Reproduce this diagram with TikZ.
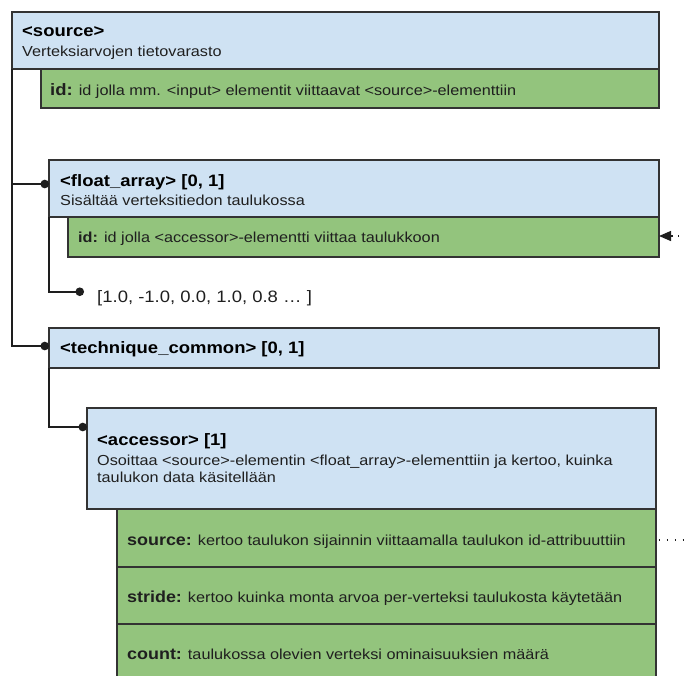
\documentclass[tikz,border=0pt]{standalone}
\usepackage{fontspec}
\setmainfont{Liberation Sans}[FakeStretch=1.12]
\usetikzlibrary{arrows.meta}
\definecolor{boxblue}{HTML}{CFE2F3}
\definecolor{boxgreen}{HTML}{93C47D}
\definecolor{boxedge}{HTML}{333333}
\definecolor{linecol}{HTML}{1E1E1E}
\begin{document}
\begin{tikzpicture}[x=1pt,y=-1pt,
  boxbase/.style={draw=boxedge, line width=1.8pt, anchor=north west, inner sep=0pt, outer sep=0pt},
  bluebox/.style={boxbase, fill=boxblue},
  greenbox/.style={boxbase, fill=boxgreen},
  ttl/.style={anchor=base west, inner sep=0pt, font=\bfseries\fontsize{16.5}{19}\selectfont},
  txt/.style={anchor=base west, inner sep=0pt, font=\fontsize{14.5}{17}\selectfont, text=black!88},
  conn/.style={draw=linecol, line width=1.8pt, -{Circle[length=8.5pt]}},
  refline/.style={draw=linecol, line width=1.4pt, dash pattern=on 1.4pt off 6.5pt}]
\clip (0,0) rectangle (685,675);

% element boxes
\node[bluebox, minimum width=647pt, minimum height=57pt] (src) at (12,12) {};
\node[bluebox, minimum width=610pt, minimum height=57pt] (fa) at (49,160) {};
\node[bluebox, minimum width=610pt, minimum height=40pt] (tc) at (49,328) {};
\node[bluebox, minimum width=569pt, minimum height=101pt] (acc) at (87,408) {};
\node[txt, font=\fontsize{16.5}{19}\selectfont] (vals) at (97,302) {[1.0, -1.0, 0.0, 1.0, 0.8 … ]};

% connectors
\draw[conn] (src.south west) |- ([yshift=4.5pt]fa.west);
\draw[conn] (src.south west) |- ([yshift=2pt]tc.west);
\draw[conn] (fa.south west) |- ([xshift=-13pt,yshift=6pt]vals.west);
\draw[conn] (tc.south west) |- ([yshift=-19pt]acc.north west);

% green attribute boxes
\node[greenbox, minimum width=618pt, minimum height=39pt] (srcid) at (41,69) {};
\node[greenbox, minimum width=591pt, minimum height=40pt] (faid) at (68,217) {};
\node[greenbox, minimum width=539pt, minimum height=58pt] (asrc) at (117,509) {};
\node[greenbox, minimum width=539pt, minimum height=57pt] (astr) at (117,567) {};
\node[greenbox, minimum width=539pt, minimum height=70pt] (acnt) at (117,624) {};

% texts
\node[ttl] (srct) at (22,36) {<source>};
\node[txt] (srcd) at (22,56) {Verteksiarvojen tietovarasto};
\node[txt] (srcidt) at (50,95) {{\bfseries\fontsize{16.5}{19}\selectfont id:} id jolla mm. <input> elementit viittaavat <source>-elementtiin};

\node[ttl] (fat) at (60,186) {<float\_array> [0, 1]};
\node[txt] (fad) at (60,205) {Sisältää verteksitiedon taulukossa};
\node[txt] (faidt) at (78,242) {{\bfseries id:} id jolla <accessor>-elementti viittaa taulukkoon};

\node[ttl] (tct) at (60,353) {<technique\_common> [0, 1]};

\node[ttl] (acct) at (97,445) {<accessor> [1]};
\node[txt] (accd1) at (97,465) {Osoittaa <source>-elementin <float\_array>-elementtiin ja kertoo, kuinka};
\node[txt] (accd2) at (97,482) {taulukon data käsitellään};

\node[txt] (asrct) at (127,545) {{\bfseries\fontsize{16}{19}\selectfont source:} kertoo taulukon sijainnin viittaamalla taulukon id-attribuuttiin};
\node[txt] (astrt) at (127,602) {{\bfseries\fontsize{16}{19}\selectfont stride:} kertoo kuinka monta arvoa per-verteksi taulukosta käytetään};
\node[txt] (acntt) at (127,659) {{\bfseries\fontsize{16}{19}\selectfont count:} taulukossa olevien verteksi ominaisuuksien määrä};

% reference lines leaving the picture to the right
\coordinate (faref) at (687,236);
\coordinate (srcref) at (687,540);
\draw[refline] (faref) -- ([xshift=14pt,yshift=1pt]faid.east);
\draw[draw=linecol, line width=1.4pt, -{Triangle[length=12pt,width=10pt]}] ([xshift=14pt,yshift=1pt]faid.east) -- ([yshift=1pt]faid.east);
\draw[refline] ([xshift=3pt,yshift=-2pt]asrc.east) -- (srcref);
\end{tikzpicture}
\end{document}
